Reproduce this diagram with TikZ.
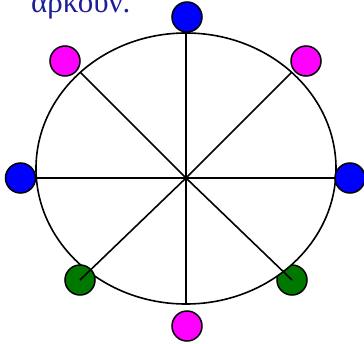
\documentclass[tikz,border=0pt]{standalone}
\usepackage{fontspec}
\newfontfamily\greekfont{Liberation Serif}
\definecolor{dotblue}{RGB}{0,0,255}
\definecolor{dotmag}{RGB}{255,0,255}
\definecolor{dotgreen}{RGB}{0,120,0}
\definecolor{txtblue}{RGB}{30,30,150}
\begin{document}
\begin{tikzpicture}[x=1pt,y=-1pt,
  dot/.style={circle,draw=black,line width=1.5pt,minimum size=30pt,inner sep=0pt},
  spoke/.style={draw=black,line width=1.6pt},
  rim/.style={draw=black,fill=white,line width=1.6pt}]
\useasboundingbox (0,0) rectangle (364,343);
\coordinate (c) at (186,178);
% ellipse points
\coordinate (et) at (186,33);
\coordinate (eb) at (186,304);
\coordinate (el) at (36.4,178);
\coordinate (er) at (335.6,178);
\coordinate (eul) at (80.3,72.3);
\coordinate (eur) at (291.7,72.3);
% right green dot lies under the ellipse
\node[dot,fill=dotgreen] (glr) at (292,280) {};
\path[rim] (186,168.5) ellipse [x radius=150, y radius=135.5];
\node[dot,fill=dotgreen] (gll) at (80,280) {};
\draw[spoke] (et) -- (eb);
\draw[spoke] (el) -- (er);
\draw[spoke] (c) -- (eul);
\draw[spoke] (c) -- (eur);
\draw[spoke] (c) -- (gll.center);
\draw[spoke] (c) -- (glr.center);
\node[dot,fill=dotblue] (bt) at (187,17) {};
\node[dot,fill=dotblue] (bl) at (20.5,178) {};
\node[dot,fill=dotblue] (br) at (350,178) {};
\node[dot,fill=dotmag] (mul) at (65,61) {};
\node[dot,fill=dotmag] (mur) at (306,61) {};
\node[dot,fill=dotmag] (mb) at (187,326) {};
\node[anchor=base west,inner sep=0pt,text=txtblue,font=\greekfont\fontsize{31}{34}\selectfont] (txt) at (31,12.5) {αρκούν.};
\end{tikzpicture}
\end{document}
